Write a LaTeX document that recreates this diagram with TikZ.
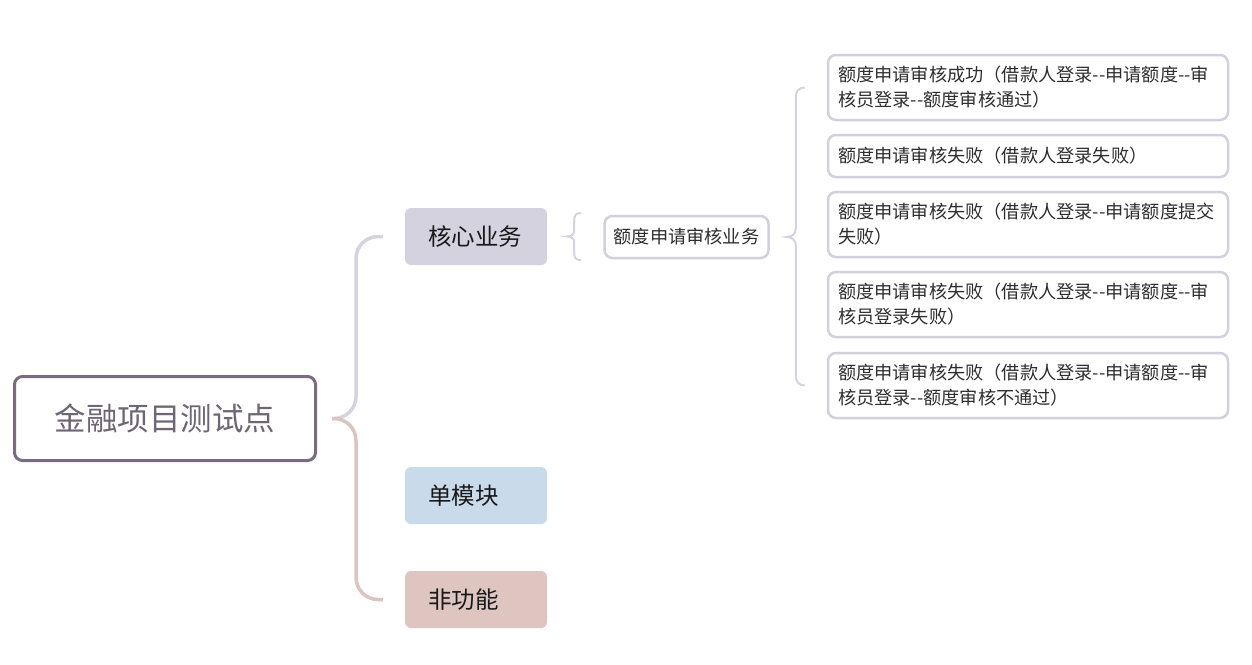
\documentclass[tikz,border=0pt]{standalone}
\usepackage{fontspec}
\newfontfamily\cjk{Noto Sans CJK SC}
\definecolor{rootc}{HTML}{7A6B80}
\definecolor{roottext}{HTML}{6F6575}
\definecolor{lineA}{HTML}{D6D2DF}
\definecolor{lineB}{HTML}{DCC5BF}
\definecolor{coref}{HTML}{D5D2E0}
\definecolor{modf}{HTML}{C9DAEB}
\definecolor{nonf}{HTML}{DEC5BF}
\definecolor{leafc}{HTML}{D3D0DD}
\definecolor{leaftext}{HTML}{2E2E2E}
\tikzset{
  rootbox/.style={draw=rootc, line width=3pt, rounded corners=8pt, fill=white,
    minimum width=301pt, minimum height=84pt, inner sep=0pt, text=roottext,
    font=\cjk\fontsize{31.5}{36}\selectfont},
  branchbox/.style={fill=#1, rounded corners=6pt, minimum width=142pt, minimum height=57pt,
    inner xsep=23pt, inner ysep=0pt, text width=96pt, align=left, text=black!90,
    font=\cjk\fontsize{23.5}{28}\selectfont},
  midbox/.style={draw=leafc, line width=2.5pt, rounded corners=8pt, fill=white,
    minimum width=164pt, minimum height=42pt, inner sep=0pt, text=leaftext,
    font=\cjk\fontsize{18.2}{25}\selectfont},
  leafbox/.style={draw=leafc, line width=2.5pt, rounded corners=8pt, fill=white,
    minimum width=400pt, minimum height=#1, inner xsep=10pt, inner ysep=0pt,
    text width=380pt, align=left, text=leaftext,
    font=\cjk\fontsize{18.2}{25}\selectfont},
  biglink/.style={line width=3.5pt, rounded corners=22pt},
  bracelink/.style={draw=lineA, line width=2pt},
}
\begin{document}
\begin{tikzpicture}[x=1pt,y=-1pt]
\useasboundingbox (0,0) rectangle (1252,664);
% nodes
\node[rootbox] (root) at (165,418.5) {金融项目测试点};
\node[branchbox=coref] (core) at (476,236.5) {核心业务};
\node[branchbox=modf] (mod) at (476,495.5) {单模块};
\node[branchbox=nonf] (non) at (476,599.5) {非功能};
\node[midbox] (mid) at (686.5,237) {额度申请审核业务};
\node[leafbox=65pt] (l1) at (1028,87.5) {额度申请审核成功（借款人登录--申请额度--审\\核员登录--额度审核通过）};
\node[leafbox=42pt] (l2) at (1028,156) {额度申请审核失败（借款人登录失败）};
\node[leafbox=65pt] (l3) at (1028,224.5) {额度申请审核失败（借款人登录--申请额度提交\\失败）};
\node[leafbox=65pt] (l4) at (1028,304.5) {额度申请审核失败（借款人登录--申请额度--审\\核员登录失败）};
\node[leafbox=65pt] (l5) at (1028,385.5) {额度申请审核失败（借款人登录--申请额度--审\\核员登录--额度审核不通过）};
% root connectors
\coordinate (rootout) at ([xshift=15pt]root.east);
\draw[biglink, draw=lineA] (rootout) -- ++(24,0) |- ([xshift=-22pt]core.west);
\draw[biglink, draw=lineB] (rootout) -- ++(24,0) |- ([xshift=-22pt]non.west);
% small brace core -> mid
\coordinate (sb) at ([xshift=20pt]core.east);
\draw[bracelink] ([xshift=14pt,yshift=23.5pt]sb)
  .. controls +(-6,0) and +(0,-6) .. ([xshift=7pt,yshift=15pt]sb)
  -- ([xshift=7pt,yshift=6pt]sb)
  .. controls +(0,4) and +(4,0) .. (sb)
  .. controls +(4,0) and +(0,-4) .. ([xshift=7pt,yshift=-6pt]sb)
  -- ([xshift=7pt,yshift=-15pt]sb)
  .. controls +(0,6) and +(-6,0) .. ([xshift=14pt,yshift=-23.5pt]sb);
% big brace mid -> leaves
\coordinate (bb) at ([xshift=17pt]mid.east);
\coordinate (t1) at ([xshift=-22pt]l1.west);
\coordinate (t5) at ([xshift=-22pt]l5.west);
\draw[bracelink] (t1)
  .. controls +(-6,0) and +(0,-6) .. ([xshift=-9pt,yshift=-10pt]t1)
  -- ([xshift=9pt,yshift=8pt]bb)
  .. controls +(0,5) and +(5,0) .. (bb)
  .. controls +(5,0) and +(0,-5) .. ([xshift=9pt,yshift=-8pt]bb)
  -- ([xshift=-9pt,yshift=10pt]t5)
  .. controls +(0,6) and +(-6,0) .. (t5);
\end{tikzpicture}
\end{document}
